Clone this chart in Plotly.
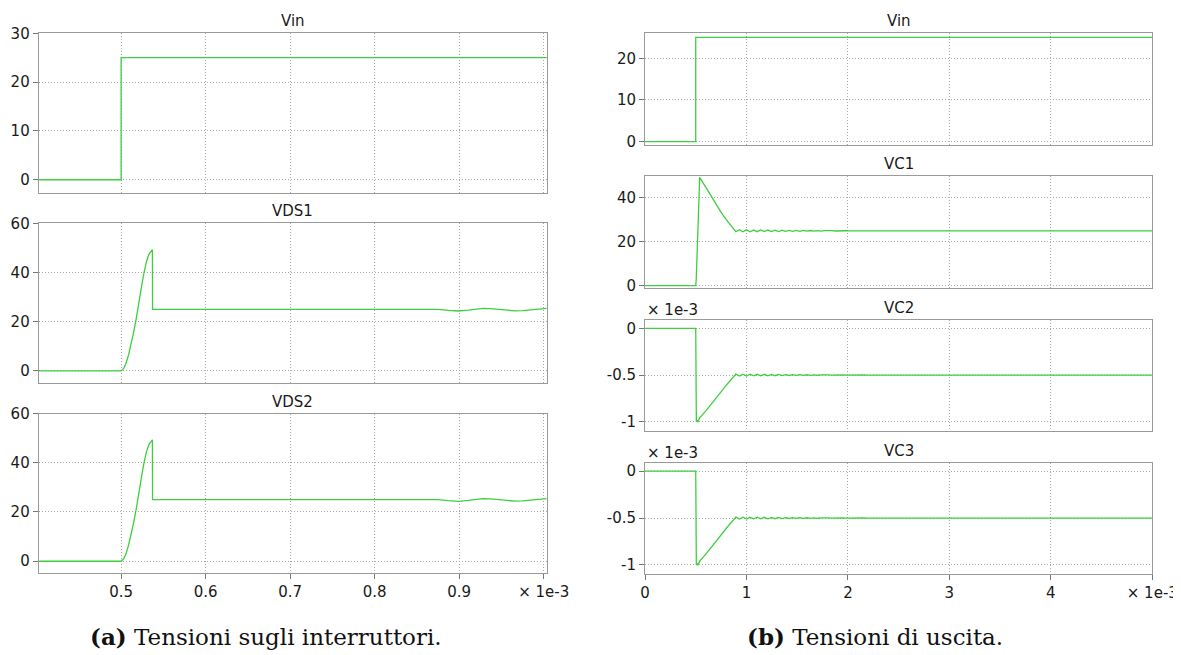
import plotly.graph_objects as go

# ---------------- data (time in units of 1e-3 s) ----------------
vin_t = [0.0, 0.5, 0.5, 5.0]
vin_v = [0.0, 0.0, 25.0, 25.0]

vds1_t = [0.40, 0.500, 0.503, 0.506, 0.509, 0.512, 0.515, 0.518, 0.521, 0.524,
          0.527, 0.530, 0.533, 0.5355, 0.537, 0.5372, 0.875, 0.887, 0.899, 0.911,
          0.920, 0.928, 0.937, 0.948, 0.957, 0.966, 0.975, 0.987, 0.996, 1.0035]
vds1_v = [0.0, 0.0, 1.0, 3.2, 6.8, 11.2, 16.0, 21.5, 27.0, 34.0,
          39.8, 44.5, 47.5, 49.0, 49.3, 25.0, 25.0, 24.6, 24.35, 24.7,
          25.2, 25.4, 25.3, 24.9, 24.55, 24.4, 24.55, 25.0, 25.3, 25.45]
vds2_t = list(vds1_t)
vds2_v = list(vds1_v)

ripple_t = [0.896, 0.931, 0.966, 1.001, 1.036, 1.071, 1.106, 1.141, 1.176, 1.211,
            1.246, 1.281, 1.316, 1.351, 1.386, 1.421, 1.456, 1.491, 1.526, 1.561,
            1.596, 1.631, 1.666, 1.701, 1.736, 1.771, 1.806, 1.841, 1.876, 1.911,
            1.946, 1.981, 2.016, 2.051, 2.086, 2.121, 2.156, 2.191, 5.0]

vc1_head_t = [0.0, 0.500, 0.505, 0.510, 0.515, 0.520, 0.525, 0.530, 0.535, 0.539,
              0.600, 0.688, 0.750, 0.820]
vc1_head_v = [0.0, 0.0, 3.0, 10.0, 20.0, 30.0, 38.0, 45.0, 48.5, 49.4,
              44.8, 37.9, 33.4, 29.0]
vc1_ripple_v = [24.6, 25.55, 24.6, 25.5, 24.6, 25.45, 24.62, 25.42, 24.65, 25.38,
                24.68, 25.34, 24.7, 25.3, 24.75, 25.25, 24.8, 25.2, 24.82, 25.18,
                24.85, 25.15, 24.88, 25.12, 24.9, 25.1, 24.92, 25.08, 24.94, 25.06,
                24.95, 25.05, 24.96, 25.04, 24.97, 25.03, 24.98, 25.02, 25.0]

vc2_head_t = [0.0, 0.500, 0.506, 0.515, 0.522, 0.530, 0.539, 0.600, 0.688, 0.750, 0.820]
vc2_head_v = [0.0, 0.0, -1.0, -0.99, -1.0, -0.975, -0.96, -0.885, -0.765, -0.675, -0.585]
vc2_ripple_v = [-0.490, -0.511, -0.491, -0.510, -0.491, -0.509, -0.492, -0.509, -0.492, -0.508,
                -0.493, -0.507, -0.494, -0.506, -0.495, -0.505, -0.496, -0.504, -0.4965, -0.5035,
                -0.497, -0.503, -0.4975, -0.5025, -0.498, -0.502, -0.4984, -0.5016, -0.4988, -0.5012,
                -0.499, -0.501, -0.4992, -0.5008, -0.4994, -0.5006, -0.4996, -0.5004, -0.5]
vc3_head_t = list(vc2_head_t)
vc3_head_v = list(vc2_head_v)
vc3_ripple_v = list(vc2_ripple_v)

left_ticks = [0.5, 0.6, 0.7, 0.8, 0.9, 1.0]
left_ticktext = ["0.5", "0.6", "0.7", "0.8", "0.9", "× 1e-3"]
right_ticks = [0, 1, 2, 3, 4, 5]
right_ticktext = ["0", "1", "2", "3", "4", "× 1e-3"]

titles = ["Vin", "VDS1", "VDS2", "Vin", "VC1", "VC2", "VC3"]
captions = ["<b>(a)</b> Tensioni sugli interruttori.", "<b>(b)</b> Tensioni di uscita."]

# ---------------- layout geometry (page pixels) ----------------
W, H = 1181, 655
OFF = 8  # page body margin offset of the figure


def fx(px):
    return (px - OFF) / W


def fy(py):
    return 1 - (py - OFF) / H


LX = (38.7, 546.7)
RX = (645.0, 1152.3)
panels = [  # (xpix, top, bottom, yrange, yticks, yticktext, side)
    (LX, 33.3, 192.7, [-2.65, 30], [0, 10, 20, 30], None, "L"),
    (LX, 223.3, 383.0, [-4.9, 60], [0, 20, 40, 60], None, "L"),
    (LX, 413.5, 573.3, [-4.9, 60], [0, 20, 40, 60], None, "L"),
    (RX, 33.3, 145.0, [-0.8, 26], [0, 10, 20], None, "R"),
    (RX, 176.0, 287.7, [-0.9, 50], [0, 20, 40], None, "R"),
    (RX, 320.0, 431.0, [-1.1, 0.09], [-1, -0.5, 0], ["-1", "-0.5", "0"], "R"),
    (RX, 462.7, 574.3, [-1.1, 0.09], [-1, -0.5, 0], ["-1", "-0.5", "0"], "R"),
]
bottom_panels = {2, 6}

series = [
    (vin_t, vin_v),
    (vds1_t, vds1_v),
    (vds2_t, vds2_v),
    (vin_t, vin_v),
    (vc1_head_t + ripple_t, vc1_head_v + vc1_ripple_v),
    (vc2_head_t + ripple_t, vc2_head_v + vc2_ripple_v),
    (vc3_head_t + ripple_t, vc3_head_v + vc3_ripple_v),
]

LINE = "#3dcf3d"
FONT = "DejaVu Sans"
TXT = "#1a1a1a"
GRID = "#a8a8a8"
BORDER = "#9a9a9a"
DOT = "1px,2px"

fig = go.Figure()
layout = dict(
    template="none",
    width=W, height=H, margin=dict(l=0, r=0, t=0, b=0, autoexpand=False),
    paper_bgcolor="white", plot_bgcolor="white", showlegend=False,
    font=dict(family=FONT, size=15, color=TXT),
)
annotations = []

for i, ((xp, top, bot, yr, yt, ytt, side), (tx, ty)) in enumerate(zip(panels, series)):
    n = i + 1
    xs = "x" if n == 1 else f"x{n}"
    ys = "y" if n == 1 else f"y{n}"
    fig.add_trace(go.Scatter(x=tx, y=ty, mode="lines", xaxis=xs, yaxis=ys,
                             line=dict(color=LINE, width=1.3), hoverinfo="skip"))
    xdom = [fx(xp[0]), fx(xp[1])]
    ydom = [fy(bot), fy(top)]
    is_bottom = i in bottom_panels
    if side == "L":
        xr, xtv, xtt = [0.4025, 1.0035], left_ticks, left_ticktext
    else:
        xr, xtv, xtt = [0, 5.0], right_ticks, right_ticktext
    layout["xaxis" if n == 1 else f"xaxis{n}"] = dict(
        domain=xdom, anchor=ys, range=xr, tickmode="array", tickvals=xtv, ticktext=xtt,
        showticklabels=is_bottom, ticks="outside" if is_bottom else "", ticklen=5,
        tickcolor="#777777", showline=True, mirror=True, linecolor=BORDER, linewidth=1,
        showgrid=True, gridcolor=GRID, griddash=DOT, gridwidth=1, zeroline=False,
        automargin=False, tickfont=dict(family=FONT, size=15, color=TXT),
    )
    yax = dict(
        domain=ydom, anchor=xs, range=yr, tickmode="array", tickvals=yt,
        ticks="outside", ticklen=5, tickcolor="#777777",
        showline=True, mirror=True, linecolor=BORDER, linewidth=1,
        showgrid=True, gridcolor=GRID, griddash=DOT, gridwidth=1, zeroline=False,
        automargin=False, tickfont=dict(family=FONT, size=15, color=TXT),
    )
    if ytt is not None:
        yax["ticktext"] = ytt
    layout["yaxis" if n == 1 else f"yaxis{n}"] = yax
    # panel title
    annotations.append(dict(
        text=titles[i], xref="paper", yref="paper",
        x=fx((xp[0] + xp[1]) / 2), y=fy(top - 12),
        xanchor="center", yanchor="middle", showarrow=False,
        font=dict(family=FONT, size=15, color=TXT)))
    if ytt is not None:
        annotations.append(dict(
            text="× 1e-3", xref="paper", yref="paper",
            x=fx(xp[0]), y=fy(top - 10),
            xanchor="left", yanchor="middle", showarrow=False,
            font=dict(family=FONT, size=15, color=TXT)))

# captions
annotations.append(dict(text=captions[0], xref="paper", yref="paper",
                        x=fx(88), y=fy(636), xanchor="left", yanchor="middle",
                        showarrow=False, font=dict(family="DejaVu Serif", size=23, color="#111111")))
annotations.append(dict(text=captions[1], xref="paper", yref="paper",
                        x=fx(745), y=fy(636), xanchor="left", yanchor="middle",
                        showarrow=False, font=dict(family="DejaVu Serif", size=23, color="#111111")))

layout["annotations"] = annotations
fig.update_layout(**layout)
fig.write_html("out.html")
